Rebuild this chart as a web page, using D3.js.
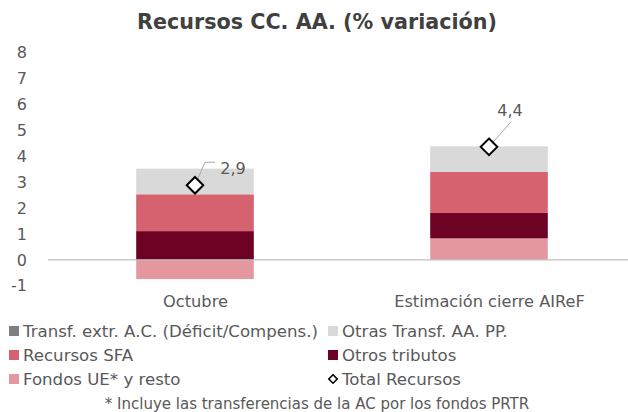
<!DOCTYPE html>
<html><head><meta charset="utf-8">
<script src="https://cdn.jsdelivr.net/npm/d3@7"></script>
<style>body{margin:0;background:#fff}svg{display:block}</style>
</head><body>
<svg id="c" width="628" height="412"></svg>
<script>
const categories = ["Octubre", "Estimación cierre AIReF"];
const transfExtr = [0, 0];
const otrasTransf = [0.99, 0.99];
const recursosSFA = [1.42, 1.58];
const otrosTributos = [1.11, 0.98];
const fondosUE = [-0.74, 0.83];
const totalRecursos = [2.88, 4.36];
const totalLabels = ["2,9", "4,4"];
const yTicks = [-1, 0, 1, 2, 3, 4, 5, 6, 7, 8];

const seriesNames = ["Transf. extr. A.C. (Déficit/Compens.)", "Otras Transf. AA. PP.", "Recursos SFA", "Otros tributos", "Fondos UE* y resto", "Total Recursos"];
const colors = {"Fondos UE* y resto":"#e5979f","Otros tributos":"#6e0224","Recursos SFA":"#d66270","Otras Transf. AA. PP.":"#d9d9d9","Transf. extr. A.C. (Déficit/Compens.)":"#7f7f7f"};

const font = "'DejaVu Sans', sans-serif";
const svg = d3.select("#c");
const x = d3.scalePoint().domain(categories).range([48, 636]).padding(0.5);
const barW = x.step() * 0.4;
const y = d3.scaleLinear().domain([-1, 8]).range([285.8, 52.5]);

// title
svg.append("text").attr("x", 317).attr("y", 29).attr("text-anchor", "middle")
  .attr("font-family", font).attr("font-weight", "bold").attr("font-size", 20.7)
  .attr("fill", "#404040").text("Recursos CC. AA. (% variación)");

// y axis labels
const yAxis = d3.axisLeft(y).tickValues(yTicks).tickSize(0).tickPadding(0)
  .tickFormat(d => d);
const ya = svg.append("g").attr("transform", "translate(27,0)").call(yAxis);
ya.select(".domain").remove();
ya.selectAll("text").attr("font-family", font).attr("font-size", 16).attr("fill", "#595959");

// stacks
const stackOrder = [
  {name:"Fondos UE* y resto", vals: fondosUE},
  {name:"Otros tributos", vals: otrosTributos},
  {name:"Recursos SFA", vals: recursosSFA},
  {name:"Otras Transf. AA. PP.", vals: otrasTransf},
  {name:"Transf. extr. A.C. (Déficit/Compens.)", vals: transfExtr}
];
categories.forEach((c, i) => {
  let pos = 0, neg = 0;
  stackOrder.forEach(s => {
    const v = s.vals[i];
    if (!v) return;
    let y0, y1;
    if (v >= 0) { y0 = pos; y1 = pos + v; pos = y1; }
    else { y0 = neg; y1 = neg + v; neg = y1; }
    svg.append("rect").attr("x", x(c) - barW/2).attr("width", barW)
      .attr("y", y(Math.max(y0, y1))).attr("height", Math.abs(y(y0) - y(y1)))
      .attr("fill", colors[s.name]);
  });
});

// zero line
svg.append("line").attr("x1", 48).attr("x2", 628).attr("y1", y(0)).attr("y2", y(0))
  .attr("stroke", "#bfbfbf").attr("stroke-width", 1.3);

// x labels
const xAxis = d3.axisBottom(x).tickSize(0).tickPadding(0);
const xa = svg.append("g").attr("transform", "translate(0,295)").call(xAxis);
xa.select(".domain").remove();
xa.selectAll("text").attr("font-family", font).attr("font-size", 16.2).attr("fill", "#595959");

// leader lines & labels
const labelOff = [[{dx:10,dy:-23},{dx:20,dy:-23}], [{dx:22,dy:-25}]];
const labelPos = [{dx:38, dy:-17}, {dx:21, dy:-36}];
categories.forEach((c, i) => {
  const cx = x(c), cy = y(totalRecursos[i]);
  const pts = [[cx, cy]].concat(labelOff[i].map(p => [cx + p.dx, cy + p.dy]));
  svg.append("path").attr("d", d3.line()(pts)).attr("fill", "none")
    .attr("stroke", "#a6a6a6").attr("stroke-width", 1);
});
categories.forEach((c, i) => {
  const cx = x(c), cy = y(totalRecursos[i]);
  svg.append("path").attr("d", d3.symbol(d3.symbolDiamond2, 175)())
    .attr("transform", `translate(${cx},${cy})`)
    .attr("fill", "#fff").attr("stroke", "#000").attr("stroke-width", 2);
  svg.append("text").attr("x", cx + labelPos[i].dx).attr("y", cy + labelPos[i].dy)
    .attr("text-anchor", "middle").attr("dominant-baseline", "central")
    .attr("font-family", font).attr("font-size", 16).attr("fill", "#595959")
    .text(totalLabels[i]);
});

// legend
const legend = [
  {name: seriesNames[0], x: 9, y: 331}, {name: seriesNames[1], x: 328, y: 331},
  {name: seriesNames[2], x: 9, y: 355}, {name: seriesNames[3], x: 328, y: 355},
  {name: seriesNames[4], x: 9, y: 379}, {name: seriesNames[5], x: 328, y: 379}
];
legend.forEach(l => {
  if (l.name === "Total Recursos") {
    svg.append("path").attr("d", d3.symbol(d3.symbolDiamond2, 45)())
      .attr("transform", `translate(${l.x + 5},${l.y})`)
      .attr("fill", "#fff").attr("stroke", "#000").attr("stroke-width", 1.6);
  } else {
    svg.append("rect").attr("x", l.x).attr("y", l.y - 5).attr("width", 10).attr("height", 10)
      .attr("fill", colors[l.name]);
  }
  svg.append("text").attr("x", l.x + 14).attr("y", l.y).attr("dominant-baseline", "central")
    .attr("font-family", font).attr("font-size", 16.6).attr("fill", "#595959").text(l.name);
});

svg.append("text").attr("x", 317).attr("y", 404).attr("text-anchor", "middle")
  .attr("dominant-baseline", "central")
  .attr("font-family", font).attr("font-size", 15).attr("fill", "#595959")
  .text("* Incluye las transferencias de la AC por los fondos PRTR");
</script>
</body></html>
